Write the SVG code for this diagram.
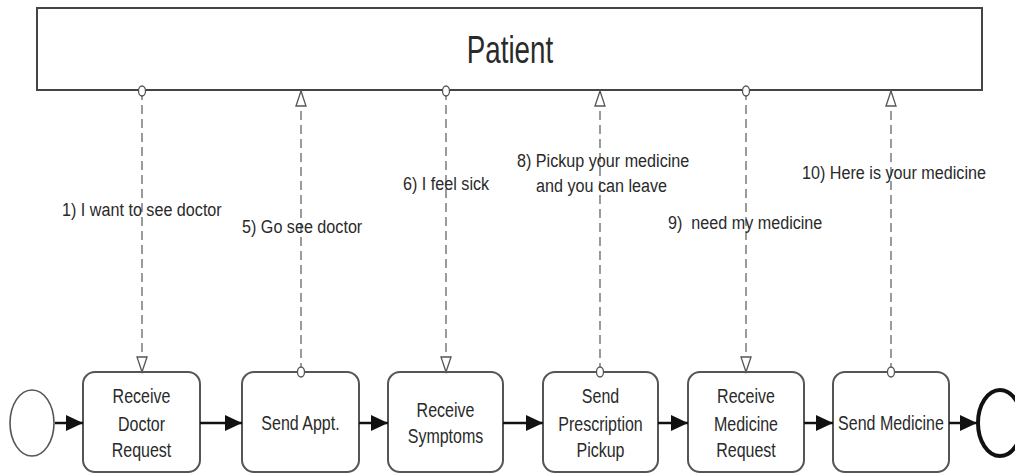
<svg xmlns="http://www.w3.org/2000/svg" width="1015" height="474" viewBox="0 0 1015 474">
  <style>
    .pool { fill: #fff; stroke: #444; stroke-width: 2; }
    .task { fill: #fff; stroke: #555; stroke-width: 2; }
    .lbl { font-family: "Liberation Sans", Arial, sans-serif; fill: #2a2a2a; }
    .tt { font-size: 20px; text-anchor: middle; }
    .ml { font-size: 19px; }
    .msg { fill: none; stroke: #666; stroke-width: 1.3; stroke-dasharray: 9 5; marker-start: url(#msgStart); marker-end: url(#msgEnd); }
    .seq { fill: none; stroke: #111; stroke-width: 2.5; marker-end: url(#seqEnd); }
  </style>
  <defs>
    <marker id="msgStart" markerUnits="userSpaceOnUse" markerWidth="14" markerHeight="14" refX="7" refY="7" orient="auto">
      <ellipse cx="7" cy="7" rx="5" ry="3.5" fill="#fff" stroke="#555" stroke-width="1.3"/>
    </marker>
    <marker id="msgEnd" markerUnits="userSpaceOnUse" markerWidth="18" markerHeight="14" refX="16" refY="7" orient="auto">
      <path d="M1,2 L16,7 L1,12 Z" fill="#fff" stroke="#555" stroke-width="1.3"/>
    </marker>
    <marker id="seqEnd" markerUnits="userSpaceOnUse" markerWidth="18" markerHeight="18" refX="17" refY="8" orient="auto">
      <path d="M0,0 L17,8 L0,16 Z" fill="#111"/>
    </marker>
  </defs>

  <!-- Patient pool -->
  <g id="patient">
    <rect class="pool" x="37" y="8" width="945" height="82"/>
    <text class="lbl" font-size="38" text-anchor="middle" transform="translate(510,63) scale(0.73,1)">Patient</text>
  </g>

  <!-- Start and end events -->
  <g id="start">
    <ellipse cx="32" cy="423" rx="22" ry="33" fill="#fff" stroke="#555" stroke-width="1.6"/>
  </g>
  <g id="end">
    <ellipse cx="1000" cy="423" rx="22" ry="33" fill="#fff" stroke="#111" stroke-width="4"/>
  </g>

  <!-- Tasks -->
  <g id="task1">
    <rect class="task" x="83" y="372" width="117" height="100" rx="12"/>
    <text class="lbl tt" transform="translate(141.5,403) scale(0.8,1)">Receive</text>
    <text class="lbl tt" transform="translate(141.5,431) scale(0.8,1)">Doctor</text>
    <text class="lbl tt" transform="translate(141.5,457) scale(0.8,1)">Request</text>
  </g>
  <g id="task2">
    <rect class="task" x="242" y="372" width="117" height="100" rx="12"/>
    <text class="lbl tt" transform="translate(300.5,430) scale(0.8,1)">Send Appt.</text>
  </g>
  <g id="task3">
    <rect class="task" x="388" y="372" width="115" height="100" rx="12"/>
    <text class="lbl tt" transform="translate(445.5,417) scale(0.8,1)">Receive</text>
    <text class="lbl tt" transform="translate(445.5,443) scale(0.8,1)">Symptoms</text>
  </g>
  <g id="task4">
    <rect class="task" x="543" y="372" width="115" height="100" rx="12"/>
    <text class="lbl tt" transform="translate(600.5,403) scale(0.8,1)">Send</text>
    <text class="lbl tt" transform="translate(600.5,431) scale(0.8,1)">Prescription</text>
    <text class="lbl tt" transform="translate(600.5,457) scale(0.8,1)">Pickup</text>
  </g>
  <g id="task5">
    <rect class="task" x="688" y="372" width="116" height="100" rx="12"/>
    <text class="lbl tt" transform="translate(746,403) scale(0.8,1)">Receive</text>
    <text class="lbl tt" transform="translate(746,431) scale(0.8,1)">Medicine</text>
    <text class="lbl tt" transform="translate(746,457) scale(0.8,1)">Request</text>
  </g>
  <g id="task6">
    <rect class="task" x="833" y="372" width="116" height="100" rx="12"/>
    <text class="lbl tt" transform="translate(891,430) scale(0.8,1)">Send Medicine</text>
  </g>

  <!-- Connectors: sequence flows and message flows -->
  <g id="connectors">
    <line class="seq" x1="55" y1="423" x2="83" y2="423"/>
    <line class="seq" x1="200" y1="423" x2="242" y2="423"/>
    <line class="seq" x1="359" y1="423" x2="388" y2="423"/>
    <line class="seq" x1="503" y1="423" x2="543" y2="423"/>
    <line class="seq" x1="658" y1="423" x2="688" y2="423"/>
    <line class="seq" x1="804" y1="423" x2="833" y2="423"/>
    <line class="seq" x1="949" y1="423" x2="977" y2="423"/>

    <line class="msg" x1="142" y1="91" x2="142" y2="372"/>
    <line class="msg" x1="301" y1="372" x2="301" y2="91"/>
    <line class="msg" x1="446" y1="91" x2="446" y2="372"/>
    <line class="msg" x1="600" y1="372" x2="600" y2="91"/>
    <line class="msg" x1="746" y1="91" x2="746" y2="372"/>
    <line class="msg" x1="891" y1="372" x2="891" y2="91"/>
  </g>

  <!-- Message labels -->
  <g id="message-labels">
    <text class="lbl ml" transform="translate(62,216) scale(0.85,1)">1) I want to see doctor</text>
    <text class="lbl ml" transform="translate(242,233) scale(0.85,1)">5) Go see doctor</text>
    <text class="lbl ml" transform="translate(403,190) scale(0.85,1)">6) I feel sick</text>
    <text class="lbl ml" transform="translate(517,167) scale(0.85,1)">8) Pickup your medicine</text>
    <text class="lbl ml" transform="translate(536,192) scale(0.85,1)">and you can leave</text>
    <text class="lbl ml" xml:space="preserve" transform="translate(668,229) scale(0.85,1)">9)  need my medicine</text>
    <text class="lbl ml" transform="translate(802,179) scale(0.85,1)">10) Here is your medicine</text>
  </g>
</svg>
